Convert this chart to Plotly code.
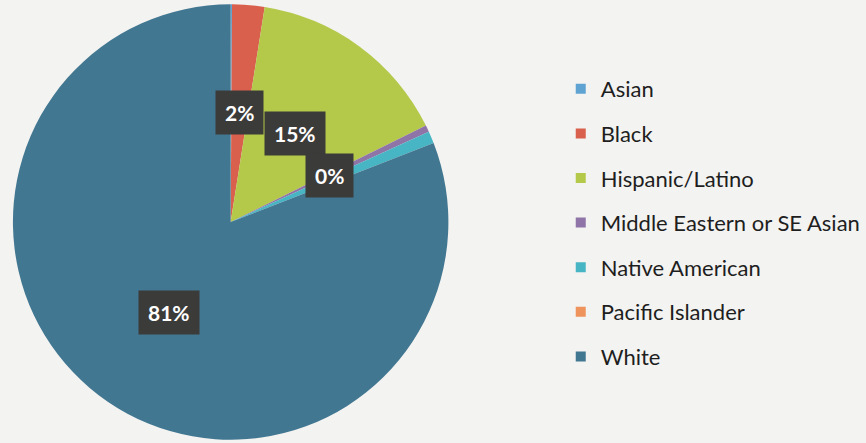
import math
import plotly.graph_objects as go

# Share of respondents by race / ethnicity (percent)
groups = ["Asian", "Black", "Hispanic/Latino", "Middle Eastern or SE Asian",
          "Native American", "Pacific Islander", "White"]
shares = [0.1, 2.4, 15.2, 0.5, 0.9, 0.0, 80.9]
colors = ["#5fa3d3", "#d9604c", "#b4c84a", "#8f74a8", "#47b5c3", "#ef935c", "#427792"]
# slices that carry a percentage label
labelled = [False, True, True, True, False, False, True]

W, H = 866, 443
# pie placement in pixels (centre and radius)
CX, CY, R = 232, 222, 219

fig = go.Figure()
fig.add_trace(go.Pie(
    labels=groups,
    values=shares,
    sort=False,
    direction="clockwise",
    rotation=0,
    marker=dict(colors=colors, line=dict(width=0)),
    textinfo="none",
    hoverinfo="label+percent",
    showlegend=False,
    domain=dict(x=[(CX - R) / W, (CX + R) / W],
                y=[(H - CY - R) / H, (H - CY + R) / H]),
))

# legend entries as square markers, one group per entry for even spacing
for i, (g, c) in enumerate(zip(groups, colors)):
    fig.add_trace(go.Scatter(
        x=[None], y=[None], mode="markers", name=g,
        marker=dict(symbol="square", size=10, color=c),
        legendgroup=f"g{i}", showlegend=True,
    ))

# percentage call-outs placed at half radius on each slice's mid-angle
total = sum(shares)
cum = 0.0
annotations = []
for g, v, show in zip(groups, shares, labelled):
    mid = (cum + v / 2) / total
    cum += v
    if not show:
        continue
    theta = 2 * math.pi * mid
    rr = 0.5 * R
    px = CX + rr * math.sin(theta)
    py = CY - rr * math.cos(theta)
    annotations.append(dict(
        x=px / W, y=1 - py / H, xref="paper", yref="paper",
        text=f"<b>{round(100 * v / total)}%</b>",
        showarrow=False, xanchor="center", yanchor="middle",
        font=dict(family="Lato, 'Open Sans', sans-serif", size=21, color="white"),
        bgcolor="#3b3b3a", borderpad=9,
    ))

fig.update_layout(
    width=W, height=H,
    margin=dict(l=0, r=0, t=0, b=0),
    paper_bgcolor="#f3f3f1",
    plot_bgcolor="rgba(0,0,0,0)",
    xaxis=dict(visible=False),
    yaxis=dict(visible=False),
    annotations=annotations,
    legend=dict(
        x=564 / W, y=1 - 68 / H, xanchor="left", yanchor="top",
        font=dict(family="Lato, 'Open Sans', sans-serif", size=22, color="#1e1e1e"),
        tracegroupgap=13,
        bgcolor="rgba(0,0,0,0)",
        itemclick=False, itemdoubleclick=False,
    ),
)

fig.write_html("out.html")
